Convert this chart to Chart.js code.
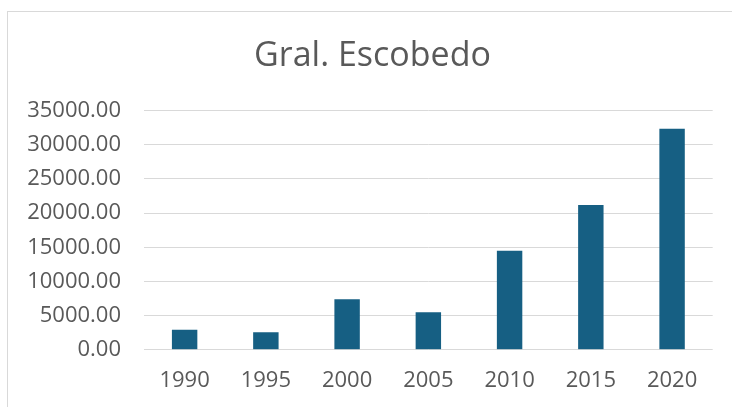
<!DOCTYPE html>
<html>
<head>
<meta charset="utf-8">
<script src="https://cdn.jsdelivr.net/npm/chart.js@4"></script>
<style>
  html, body { margin: 0; padding: 0; background: #ffffff; }
  body { width: 732px; height: 407px; overflow: hidden; position: relative; }
  #frame { position: absolute; left: 7px; top: 11px; width: 760px; height: 440px; border: 1px solid #d9d9d9; box-sizing: border-box; }
  #wrap { position: absolute; left: 0; top: 0; width: 732px; height: 407px; }
</style>
</head>
<body>
<div id="frame"></div>
<div id="wrap"><canvas id="c" width="732" height="407"></canvas></div>
<script>
const chartTitle = "Gral. Escobedo";
const years = ["1990", "1995", "2000", "2005", "2010", "2015", "2020"];
const values = [2930, 2550, 7380, 5480, 14500, 21190, 32360];
const yTicks = [0, 5000, 10000, 15000, 20000, 25000, 30000, 35000];

const ctx = document.getElementById('c').getContext('2d');
new Chart(ctx, {
  type: 'bar',
  data: {
    labels: years,
    datasets: [{
      data: values,
      backgroundColor: '#165f83',
      borderWidth: 0,
      categoryPercentage: 1.0,
      barPercentage: 0.313,
      yAxisID: 'y'
    }]
  },
  options: {
    responsive: false,
    animation: false,
    devicePixelRatio: 1,
    layout: { padding: { left: 22, right: 9, top: 0, bottom: 0 } },
    plugins: {
      legend: { display: false },
      tooltip: { enabled: false },
      title: {
        display: true,
        text: chartTitle,
        color: '#595959',
        font: { family: '"Open Sans", sans-serif', size: 34, weight: 'normal', lineHeight: 1.2 },
        padding: { top: 35.6, bottom: 34.3 }
      }
    },
    scales: {
      x: {
        grid: { display: false, drawTicks: false },
        border: { display: false },
        ticks: {
          color: '#595959',
          padding: 18,
          maxRotation: 0,
          font: { family: '"Open Sans", sans-serif', size: 22 }
        },
        afterFit: (s) => { s.height = 407 - 349.7; }
      },
      y: {
        position: 'left',
        min: yTicks[0],
        max: yTicks[yTicks.length - 1],
        afterBuildTicks: (s) => { s.ticks = yTicks.map(v => ({ value: v })); },
        grid: { color: '#d9d9d9', lineWidth: 1, drawTicks: false },
        border: { display: false },
        ticks: {
          color: '#595959',
          padding: 23,
          font: { family: '"Open Sans", sans-serif', size: 22 },
          callback: (v) => Number(v).toFixed(2)
        },
        afterFit: (s) => { s.width = 144 - 22; }
      },
      yRightSpacer: {
        type: 'linear',
        position: 'right',
        display: true,
        grid: { display: false, drawTicks: false },
        border: { display: false },
        ticks: { display: false },
        afterFit: (s) => { s.width = (732 - 9) - 712.7; }
      }
    }
  }
});
</script>
</body>
</html>
